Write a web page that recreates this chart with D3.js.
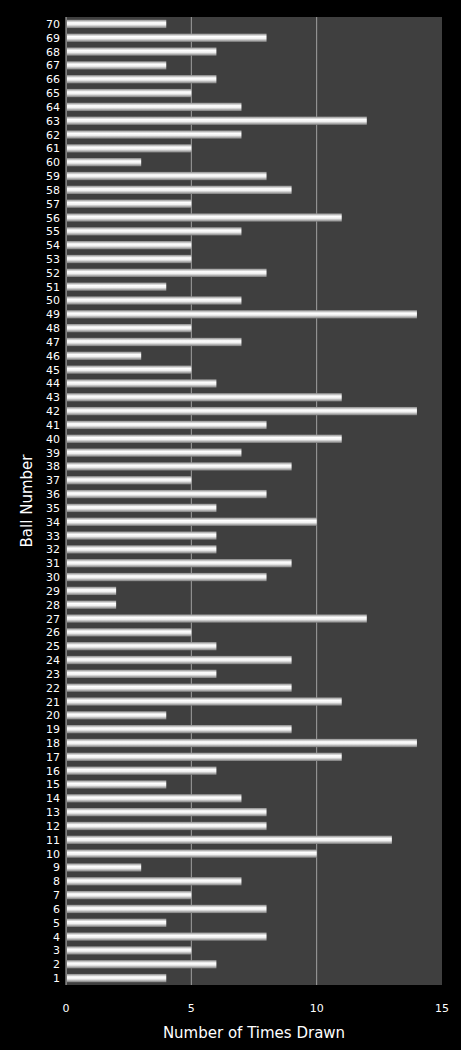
<!DOCTYPE html>
<html><head><meta charset="utf-8">
<script src="https://cdn.jsdelivr.net/npm/d3@7"></script>
<style>body{margin:0;background:#000}</style>
</head><body>
<script>
// ball numbers 1..70 and how often each was drawn
const balls = d3.range(1, 71);
const drawn = [4,6,5,8,4,8,5,7,3,10,13,8,8,7,4,6,11,14,9,4,
  11,9,6,9,6,5,12,2,2,8,9,6,6,10,6,8,5,9,7,11,
  8,14,11,6,5,3,7,5,14,7,4,8,5,5,7,11,5,9,8,3,
  5,7,12,7,5,6,4,6,8,4];
const xTicks = [0, 5, 10, 15];

const W = 461, H = 1050;
const m = {left: 66, right: 19, top: 17, bottom: 65};
const svg = d3.select("body").append("svg").attr("width", W).attr("height", H)
  .style("font-family", "'DejaVu Sans', sans-serif");
svg.append("rect").attr("width", W).attr("height", H).attr("fill", "#000");

const x = d3.scaleLinear().domain([0, 15]).range([m.left, W - m.right]);
const y = d3.scaleBand().domain(balls.slice().reverse()).range([m.top, H - m.bottom]).paddingInner(0.4).paddingOuter(0.2);

const grad = svg.append("defs").append("linearGradient").attr("id", "bar")
  .attr("x1", 0).attr("y1", 0).attr("x2", 0).attr("y2", 1);
[[0, "#8a8a8a"], [0.35, "#ffffff"], [0.6, "#f0f0f0"], [1, "#7a7a7a"]].forEach(([o, c]) =>
  grad.append("stop").attr("offset", o).attr("stop-color", c));

svg.append("rect").attr("x", m.left).attr("y", m.top)
  .attr("width", x(15) - m.left).attr("height", H - m.bottom - m.top).attr("fill", "#3f3f3f");

svg.selectAll(".grid").data(xTicks.slice(1, -1)).join("line")
  .attr("x1", d => x(d)).attr("x2", d => x(d))
  .attr("y1", m.top).attr("y2", H - m.bottom).attr("stroke", "#a0a0a0").attr("stroke-width", 1);

svg.selectAll(".bar").data(balls).join("rect")
  .attr("x", x(0) + 1).attr("y", d => y(d))
  .attr("width", (d, i) => x(drawn[i]) - x(0) - 1).attr("height", y.bandwidth())
  .attr("fill", "url(#bar)");

svg.append("line").attr("x1", x(0)).attr("x2", x(0)).attr("y1", m.top).attr("y2", H - m.bottom)
  .attr("stroke", "#bbb");

svg.selectAll(".yl").data(balls).join("text")
  .attr("x", m.left - 6).attr("y", d => y(d) + y.bandwidth() / 2 + 4)
  .attr("text-anchor", "end").attr("fill", "#fff").attr("font-size", 11).text(d => d);

svg.selectAll(".xl").data(xTicks).join("text")
  .attr("x", d => x(d)).attr("y", H - m.bottom + 27)
  .attr("text-anchor", "middle").attr("fill", "#fff").attr("font-size", 11).text(d => d);

svg.append("text").attr("x", (x(0) + x(15)) / 2).attr("y", H - 12)
  .attr("text-anchor", "middle").attr("fill", "#fff").attr("font-size", 15).text("Number of Times Drawn");
svg.append("text").attr("transform", `translate(32,${(m.top + H - m.bottom) / 2}) rotate(-90)`)
  .attr("text-anchor", "middle").attr("fill", "#fff").attr("font-size", 15).text("Ball Number");
</script>
</body></html>
